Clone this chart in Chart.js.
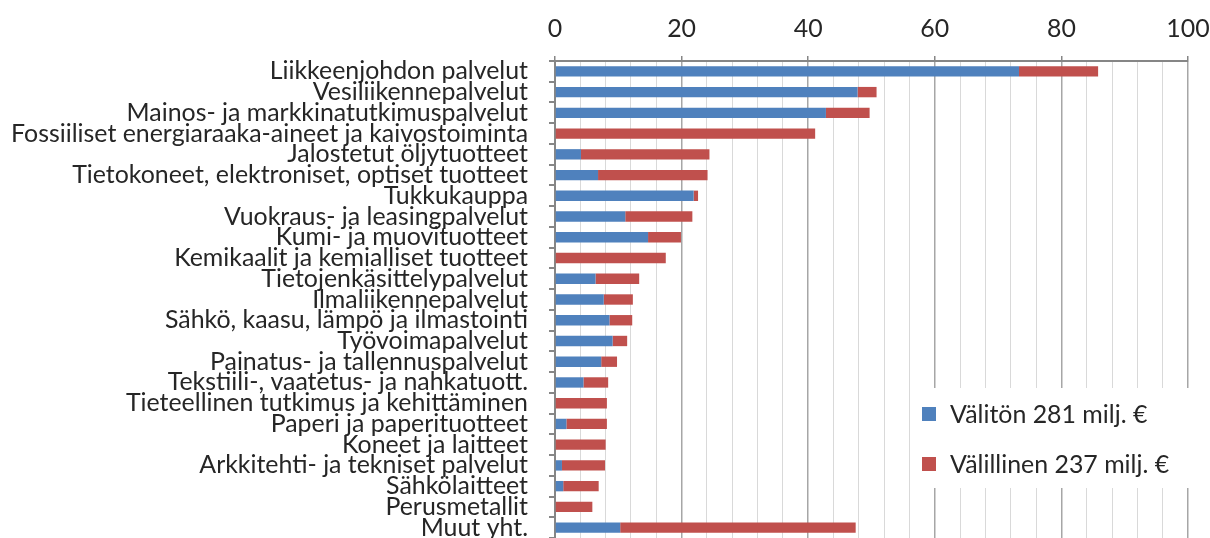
<!DOCTYPE html>
<html><head><meta charset="utf-8">
<script src="https://cdn.jsdelivr.net/npm/chart.js@4.4.1/dist/chart.umd.min.js"></script>
<style>html,body{margin:0;padding:0;background:#fff}#wrap{position:relative;width:1210px;height:538px}</style>
</head><body><div id="wrap"><canvas id="c" width="1210" height="538"></canvas></div>
<script>
const categories = [
  'Liikkeenjohdon palvelut',
  'Vesiliikennepalvelut',
  'Mainos- ja markkinatutkimuspalvelut',
  'Fossiiliset energiaraaka-aineet ja kaivostoiminta',
  'Jalostetut öljytuotteet',
  'Tietokoneet, elektroniset, optiset tuotteet',
  'Tukkukauppa',
  'Vuokraus- ja leasingpalvelut',
  'Kumi- ja muovituotteet',
  'Kemikaalit ja kemialliset tuotteet',
  'Tietojenkäsittelypalvelut',
  'Ilmaliikennepalvelut',
  'Sähkö, kaasu, lämpö ja ilmastointi',
  'Työvoimapalvelut',
  'Painatus- ja tallennuspalvelut',
  'Tekstiili-, vaatetus- ja nahkatuott.',
  'Tieteellinen tutkimus ja kehittäminen',
  'Paperi ja paperituotteet',
  'Koneet ja laitteet',
  'Arkkitehti- ja tekniset palvelut',
  'Sähkölaitteet',
  'Perusmetallit',
  'Muut yht.'
];
const direct   = [73.3, 47.8, 42.8, 0, 4.1, 6.8, 21.9, 11.1, 14.7, 0, 6.4, 7.7, 8.6, 9.1, 7.3, 4.5, 0, 1.8, 0, 1.1, 1.3, 0, 10.3];
const indirect = [12.5, 3.0, 6.9, 41.1, 20.3, 17.3, 0.7, 10.6, 5.2, 17.5, 6.9, 4.6, 3.6, 2.3, 2.5, 3.9, 8.2, 6.4, 8.0, 6.8, 5.6, 5.9, 37.2];
const seriesNames = ['Välitön 281 milj. €', 'Välillinen 237 milj. €'];
const xMin = 0, xMax = 100, xMajor = 20, xMinor = 4;

const FONT = 'Lato';
const TXT = '#262626';
const BLUE = '#4F81BD', RED = '#C0504D';

// choose font size so widest label spans about 518px
const mctx = document.createElement('canvas').getContext('2d');
mctx.font = '20px ' + FONT;
let widest = 0;
categories.forEach(c => { widest = Math.max(widest, mctx.measureText(c).width); });
const fs = Math.round(20 * 518 / widest * 10) / 10;

const legendPlugin = {
  id: 'boxLegend',
  afterDraw(chart) {
    const ctx = chart.ctx;
    ctx.save();
    ctx.fillStyle = '#fff';
    ctx.fillRect(910, 388, 284, 100);
    const ys = [414, 464];
    chart.data.datasets.forEach((ds, i) => {
      ctx.fillStyle = ds.backgroundColor;
      ctx.fillRect(922, ys[i] - 7, 14, 14);
      ctx.fillStyle = TXT;
      ctx.font = fs + 'px ' + FONT;
      ctx.textBaseline = 'middle';
      ctx.textAlign = 'left';
      ctx.fillText(ds.label, 950, ys[i] + 1);
    });
    ctx.restore();
  }
};

function zeroPad(s) { s.paddingTop = 0; s.paddingBottom = 0; s.paddingLeft = 0; s.paddingRight = 0; }

new Chart(document.getElementById('c'), {
  type: 'bar',
  data: {
    labels: categories,
    datasets: [
      { label: seriesNames[0], data: direct, backgroundColor: BLUE, borderWidth: 0, barPercentage: 0.5, categoryPercentage: 1 },
      { label: seriesNames[1], data: indirect, backgroundColor: RED, borderWidth: 0, barPercentage: 0.5, categoryPercentage: 1 }
    ]
  },
  options: {
    indexAxis: 'y',
    responsive: false,
    animation: false,
    layout: { padding: { left: 0, right: 22, top: 0, bottom: 0 } },
    plugins: { legend: { display: false }, tooltip: { enabled: false } },
    scales: {
      x: {
        position: 'top', stacked: true, min: xMin, max: xMax,
        ticks: {
          stepSize: xMinor, autoSkip: false, maxRotation: 0,
          callback: v => (v % xMajor === 0 ? String(v) : ''),
          font: { family: FONT, size: fs }, color: TXT, padding: 12
        },
        grid: {
          color: c => (c.tick && c.tick.value % xMajor === 0 ? '#a6a6a6' : '#d9d9d9'),
          lineWidth: c => (c.tick && c.tick.value % xMajor === 0 ? 1.5 : 1),
          tickColor: c => (c.tick && c.tick.value % xMajor === 0 ? '#868686' : 'rgba(0,0,0,0)'),
          tickLength: 5
        },
        border: { color: '#868686', width: 2 },
        afterFit: s => { s.height = 61; zeroPad(s); }
      },
      y: {
        stacked: true,
        ticks: { font: { family: FONT, size: fs }, color: TXT, padding: 21, autoSkip: false },
        grid: { drawOnChartArea: false, tickLength: 6, color: '#868686', lineWidth: 2, offset: true },
        border: { color: '#868686', width: 2 },
        afterFit: s => { s.width = 555; zeroPad(s); }
      }
    }
  },
  plugins: [legendPlugin]
});
</script>
</body></html>
